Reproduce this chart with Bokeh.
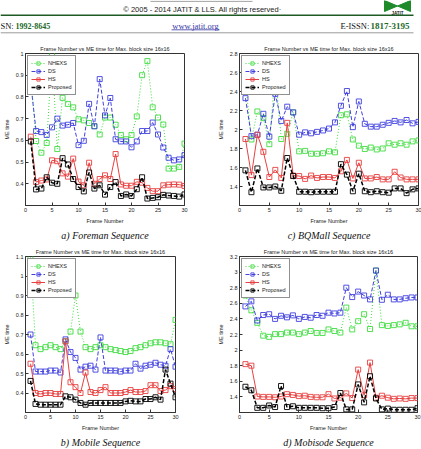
from bokeh.plotting import figure
from bokeh.layouts import column, row
from bokeh.models import Range1d, FixedTicker, Title, CustomJSTickFormatter
from bokeh.embed import file_html
from bokeh.resources import INLINE
from bokeh.core.properties import value

# ---------------- data ----------------
frames = list(range(1, 31))
x_ticks = [0, 5, 10, 15, 20, 25, 30]
series_names = ["NHEXS", "DS", "HS", "Proposed"]

foreman_nhexs = [0.90, 0.597, 0.543, 0.588, 0.995, 0.56, 0.796, 0.768, 0.752, 0.697,
                 0.692, 0.68, 0.665, 0.627, 0.705, 0.705, 0.672, 0.625, 0.605, 0.625,
                 0.71, 0.90, 0.965, 0.752, 0.705, 0.673, 0.47, 0.47, 0.478, 0.585]
foreman_ds = [0.86, 0.643, 0.638, 0.625, 0.66, 0.70, 0.668, 0.672, 0.68, 0.578,
              0.598, 0.768, 0.665, 0.882, 0.715, 0.795, 0.605, 0.595, 0.595, 0.568,
              0.595, 0.643, 0.643, 0.682, 0.627, 0.567, 0.52, 0.508, 0.512, 0.532]
foreman_hs = [0.617, 0.408, 0.415, 0.42, 0.508, 0.504, 0.448, 0.433, 0.516, 0.41,
              0.393, 0.497, 0.40, 0.422, 0.439, 0.422, 0.537, 0.397, 0.391, 0.391,
              0.409, 0.405, 0.381, 0.366, 0.366, 0.393, 0.396, 0.397, 0.396, 0.39]
foreman_prop = [0.595, 0.374, 0.378, 0.43, 0.405, 0.40, 0.518, 0.489, 0.422, 0.385,
                0.365, 0.452, 0.378, 0.393, 0.35, 0.385, 0.408, 0.344, 0.351, 0.344,
                0.375, 0.43, 0.332, 0.335, 0.338, 0.349, 0.346, 0.344, 0.341, 0.351]

bqmall_nhexs = [2.5, 1.895, 2.19, 2.12, 1.845, 2.6, 1.90, 1.955, 2.18, 1.77,
                1.775, 1.745, 1.745, 1.75, 1.77, 1.76, 2.15, 2.16, 1.895, 1.83,
                1.795, 1.81, 1.79, 1.80, 1.855, 1.84, 1.855, 1.84, 1.875, 1.885]
bqmall_ds = [2.33, 1.93, 1.945, 2.165, 1.925, 2.375, 2.09, 2.24, 2.18, 1.945,
             1.97, 1.96, 1.975, 1.99, 2.01, 2.075, 2.25, 2.405, 2.025, 2.295,
             2.06, 2.03, 2.03, 2.05, 2.07, 2.09, 2.075, 2.10, 2.065, 2.08]
bqmall_hs = [1.90, 1.52, 1.945, 1.765, 1.50, 1.575, 1.49, 2.07, 1.515, 1.51,
             1.48, 1.515, 1.49, 1.50, 1.50, 1.49, 1.56, 1.68, 1.485, 1.65,
             1.485, 1.485, 1.50, 1.475, 1.475, 1.555, 1.495, 1.475, 1.475, 1.475]
bqmall_prop = [1.57, 1.34, 1.59, 1.39, 1.39, 1.40, 1.355, 1.70, 1.51, 1.345,
               1.345, 1.34, 1.345, 1.345, 1.345, 1.345, 1.635, 1.525, 1.35, 1.535,
               1.35, 1.34, 1.35, 1.34, 1.335, 1.38, 1.38, 1.33, 1.37, 1.38]

mobile_nhexs = [1.095, 0.645, 0.625, 0.635, 0.645, 0.635, 0.625, 0.665, 0.715, 0.90,
                0.715, 0.635, 0.625, 0.635, 0.645, 0.635, 0.625, 0.62, 0.615, 0.61,
                0.615, 0.63, 0.635, 0.645, 0.655, 0.66, 0.66, 0.655, 0.65, 0.775]
mobile_ds = [0.70, 0.51, 0.51, 0.51, 0.515, 0.515, 0.505, 0.675, 0.61, 0.58,
             0.52, 0.535, 0.54, 0.52, 0.685, 0.515, 0.515, 0.515, 0.51, 0.515,
             0.515, 0.55, 0.525, 0.54, 0.545, 0.555, 0.545, 0.54, 0.625, 0.535]
mobile_hs = [0.55, 0.40, 0.395, 0.40, 0.40, 0.395, 0.395, 0.665, 0.455, 0.43,
             0.40, 0.505, 0.405, 0.40, 0.415, 0.43, 0.40, 0.40, 0.40, 0.405,
             0.415, 0.405, 0.405, 0.41, 0.44, 0.44, 0.41, 0.415, 0.435, 0.42]
mobile_prop = [0.462, 0.344, 0.34, 0.34, 0.34, 0.34, 0.34, 0.383, 0.378, 0.366,
               0.349, 0.34, 0.349, 0.349, 0.349, 0.349, 0.349, 0.349, 0.349, 0.357,
               0.36, 0.357, 0.357, 0.369, 0.369, 0.378, 0.366, 0.52, 0.448, 0.378]

mobisode_nhexs = [2.70, 2.51, 2.35, 2.185, 2.17, 2.205, 2.205, 2.225, 2.225, 2.205,
                  2.225, 2.245, 2.22, 2.22, 2.265, 2.245, 2.225, 2.545, 2.265, 2.37,
                  2.46, 2.27, 3.02, 2.32, 2.31, 2.32, 2.33, 2.35, 2.305, 2.305]
mobisode_ds = [2.56, 2.625, 2.38, 2.45, 2.46, 2.40, 2.44, 2.42, 2.445, 2.40,
               2.425, 2.415, 2.45, 2.44, 2.48, 2.47, 2.48, 2.80, 2.68, 2.75,
               2.70, 2.65, 3.02, 2.645, 2.71, 2.65, 2.65, 2.665, 2.675, 2.675]
mobisode_hs = [1.82, 1.80, 1.405, 1.40, 1.40, 1.395, 1.405, 1.435, 1.425, 1.41,
               1.415, 1.40, 1.395, 1.395, 1.435, 1.38, 1.39, 1.445, 1.385, 1.75,
               1.42, 1.84, 1.39, 1.415, 1.39, 1.375, 1.38, 1.375, 1.385, 1.385]
mobisode_prop = [1.53, 1.485, 1.26, 1.26, 1.29, 1.27, 1.54, 1.27, 1.28, 1.26,
                 1.26, 1.26, 1.26, 1.255, 1.255, 1.27, 1.45, 1.24, 1.24, 1.56,
                 1.33, 1.665, 1.38, 1.24, 1.25, 1.235, 1.235, 1.235, 1.235, 1.255]

foreman_yticks = [0.4, 0.5, 0.6, 0.7, 0.8, 0.9, 1.0]
bqmall_yticks = [1.4, 1.6, 1.8, 2.0, 2.2, 2.4, 2.6, 2.8]
mobile_yticks = [0.4, 0.5, 0.6, 0.7, 0.8, 0.9, 1.0, 1.1]
mobisode_yticks = [1.4, 1.6, 1.8, 2.0, 2.2, 2.4, 2.6, 2.8, 3.0, 3.2]

chart_title = "Frame Number vs ME time for Max. block size 16x16"
x_label = "Frame Number"
y_label = "ME time"
captions = ["a) Foreman Sequence", "c) BQMall Sequence",
            "b) Mobile Sequence", "d) Mobisode Sequence"]

header_copyright = "\u00a9 2005 - 2014 JATIT & LLS. All rights reserved\u00b7"
issn_label = "SN:"
issn_value = "1992-8645"
site = "www.jatit.org"
eissn_label = "E-ISSN:"
eissn_value = "1817-3195"
logo_text = "JATIT"

# ---------------- styles ----------------
styles = {
    "NHEXS": dict(color="#3ddc3d", dash="1 2", width=1.0),
    "DS": dict(color="#4040e0", dash="4 2", width=1.0),
    "HS": dict(color="#e84040", dash="solid", width=1.0),
    "Proposed": dict(color="#000000", dash="4 2", width=1.5),
}
SANS = value("Liberation Sans")
SERIF = value("Liberation Serif")
TXT = "#222222"


def make_plot(width, height, borders, yrange, yticks, data, caption, cap_offset):
    l, r, t, b = borders
    p = figure(width=width, height=height, output_backend="svg", toolbar_location=None,
               x_range=Range1d(0, 30), y_range=Range1d(*yrange),
               min_border_left=l, min_border_right=r, min_border_top=t, min_border_bottom=b)
    p.title.text = chart_title
    p.title.align = "center"
    p.title.text_font = "Liberation Sans"
    p.title.text_font_size = "5.5px"
    p.title.text_font_style = "normal"
    p.title.text_color = TXT
    p.title.standoff = 4
    p.grid.visible = False
    p.outline_line_color = "#333333"
    p.background_fill_color = "white"
    p.border_fill_color = "white"

    p.xaxis.ticker = FixedTicker(ticks=x_ticks)
    p.yaxis.ticker = FixedTicker(ticks=yticks)
    p.yaxis.formatter = CustomJSTickFormatter(code="return String(Math.round(tick*100)/100);")
    for ax in (p.xaxis[0], p.yaxis[0]):
        ax.major_tick_in = 3
        ax.major_tick_out = 0
        ax.minor_tick_in = 0
        ax.minor_tick_out = 0
        ax.axis_line_color = "#333333"
        ax.major_tick_line_color = "#333333"
        ax.major_label_text_font = "Liberation Sans"
        ax.major_label_text_font_size = "5.5px"
        ax.major_label_text_color = TXT
        ax.major_label_standoff = 2
        ax.axis_label_text_font = "Liberation Sans"
        ax.axis_label_text_font_size = "5.5px"
        ax.axis_label_text_font_style = "normal"
        ax.axis_label_text_color = TXT
        ax.axis_label_standoff = 3
    p.xaxis.axis_label = x_label
    p.yaxis.axis_label = y_label

    for name, ys in zip(series_names, data):
        st = styles[name]
        p.line(frames, ys, line_color=st["color"], line_dash=st["dash"],
               line_width=st["width"], legend_label=name)
        p.scatter(frames, ys, marker="square", size=5, line_color=st["color"],
                  line_width=0.9, fill_alpha=0, legend_label=name)

    lg = p.legend[0]
    lg.location = "top_left"
    lg.margin = 2
    lg.padding = 3
    lg.spacing = 0
    lg.label_text_font = "Liberation Sans"
    lg.label_text_font_size = "5.5px"
    lg.label_text_color = TXT
    lg.label_height = 8
    lg.glyph_height = 8
    lg.glyph_width = 14
    lg.label_standoff = 3
    lg.border_line_color = "#222222"
    lg.border_line_width = 1
    lg.background_fill_alpha = 1

    cap = Title(text=caption, align="center", offset=cap_offset,
                text_font="Liberation Serif", text_font_style="italic",
                text_font_size="10px", text_color="#111111", standoff=3)
    p.add_layout(cap, "below")
    return p


p1 = make_plot(210, 206, (21, 26, 17, 31), (0.3, 1.0), foreman_yticks,
               [foreman_nhexs, foreman_ds, foreman_hs, foreman_prop], captions[0], -9)
p2 = make_plot(211, 206, (29, 3, 17, 31), (1.2, 2.8), bqmall_yticks,
               [bqmall_nhexs, bqmall_ds, bqmall_hs, bqmall_prop], captions[1], -17)
p3 = make_plot(210, 207, (21, 35, 14, 36), (0.3, 1.1), mobile_yticks,
               [mobile_nhexs, mobile_ds, mobile_hs, mobile_prop], captions[2], -5)
p4 = make_plot(211, 207, (29, 4, 14, 33), (1.2, 3.2), mobisode_yticks,
               [mobisode_nhexs, mobisode_ds, mobisode_hs, mobisode_prop], captions[3], -16)

# ---------------- header ----------------
hdr = figure(width=421, height=36, x_range=Range1d(0, 421), y_range=Range1d(36, 0),
             output_backend="svg", toolbar_location=None, min_border=0,
             x_axis_location=None, y_axis_location=None)
hdr.grid.visible = False
hdr.outline_line_color = None
hdr.segment(x0=[150], y0=[0.8], x1=[252], y1=[0.8], line_color="#999999", line_width=1)
hdr.text(x=[202], y=[8.5], text=[header_copyright], text_font=SANS, text_font_size="7.5px",
         text_align="center", text_baseline="middle", text_color=TXT)
# logo
hdr.patches(xs=[[384, 384, 397], [410, 410, 397]], ys=[[0, 11, 5.5], [0, 11, 5.5]],
            fill_color="#1e8a2a", line_color="#1e8a2a")
hdr.text(x=[397], y=[13], text=[logo_text], text_font=SANS, text_font_size="4.5px",
         text_font_style="bold", text_align="center", text_baseline="middle", text_color="#111111")
hdr.segment(x0=[0], y0=[14.8], x1=[413], y1=[14.8], line_color="#1d5a24", line_width=1.6)
hdr.text(x=[0], y=[25.5], text=[issn_label], text_font=SERIF, text_font_size="8.5px",
         text_align="left", text_baseline="middle", text_color="#111111")
hdr.text(x=[15], y=[25.5], text=[issn_value], text_font=SERIF, text_font_size="8px",
         text_font_style="bold", text_align="left", text_baseline="middle", text_color="#1d6a2a")
hdr.text(x=[195], y=[25.5], text=[site], text_font=SERIF, text_font_size="8.5px",
         text_align="center", text_baseline="middle", text_color="#3535a5")
hdr.segment(x0=[171], y0=[29.3], x1=[219], y1=[29.3], line_color="#3535a5", line_width=0.8)
hdr.text(x=[340], y=[25.5], text=[eissn_label], text_font=SERIF, text_font_size="8.5px",
         text_align="left", text_baseline="middle", text_color="#111111")
hdr.text(x=[370], y=[25.5], text=[eissn_value], text_font=SERIF, text_font_size="9px",
         text_font_style="bold", text_align="left", text_baseline="middle", text_color="#1d6a2a")
hdr.segment(x0=[0], y0=[32.3], x1=[413], y1=[32.3], line_color="#9a9a9a", line_width=1)

layout = column(hdr, row(p1, p2), row(p3, p4))
open("out.html", "w").write(file_html(layout, INLINE))
